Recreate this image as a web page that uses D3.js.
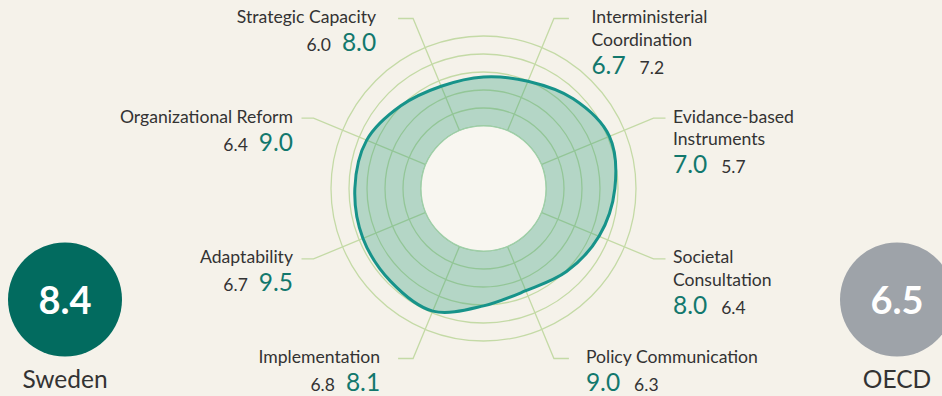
<!DOCTYPE html>
<html>
<head>
<meta charset="utf-8">
<script src="https://cdn.jsdelivr.net/npm/d3@7"></script>
<style>
  html, body { margin: 0; padding: 0; background: #f5f2ea; }
  svg { display: block; font-family: Lato, "Open Sans", sans-serif; }
</style>
</head>
<body>
<svg id="chart" width="942" height="396"></svg>
<script>
// categories, clockwise from the top-left spoke
var labelLines = [
  ["Strategic Capacity"],
  ["Interministerial", "Coordination"],
  ["Evidance-based", "Instruments"],
  ["Societal", "Consultation"],
  ["Policy Communication"],
  ["Implementation"],
  ["Adaptability"],
  ["Organizational Reform"]
];
var swedenScores = [8.0, 6.7, 7.0, 8.0, 9.0, 8.1, 9.5, 9.0];
var oecdScores   = [6.0, 7.2, 5.7, 6.4, 6.3, 6.8, 6.7, 6.4];
var swedenTotal = 8.4;
var oecdTotal = 6.5;
var countryNames = ["Sweden", "OECD"];
// the drawn outline at every spoke and half-spoke (score units)
var outlineScores = [5.35, 5.45, 5.95, 7.15, 8.2, 7.65, 6.95, 6.1,
                     5.35, 6.1, 7.8, 7.65, 7.55, 7.35, 7.1, 6.05];
var ringTicks = [0, 2, 4, 6, 8, 10];

var svg = d3.select("#chart");
var cx = 483.5, cy = 188.5;
var gridColor = "#c4daa6", teal = "#12786d", ink = "#333333";

var rscale = d3.scaleLinear().domain([0, 10]).range([62.5, 152.5]);
var rEnd = 184;

var angleOf = function(i) { return (i * 45 - 22.5) * Math.PI / 180; };

var g = svg.append("g").attr("transform", "translate(" + cx + "," + cy + ")");

// rings
g.selectAll("circle.ring")
  .data(ringTicks)
  .enter()
  .append("circle")
  .attr("class", "ring")
  .attr("r", function(d) { return rscale(d); })
  .attr("fill", "none")
  .attr("stroke", gridColor)
  .attr("stroke-width", 1.3);

// spokes + leader lines
var leaderLen = [15, 15, 12, 12, 15, 15, 12, 12];
g.selectAll("path.spoke")
  .data(labelLines)
  .enter()
  .append("path")
  .attr("class", "spoke")
  .attr("d", function(d, i) {
    var a = angleOf(i), s = Math.sin(a), c = -Math.cos(a);
    var x0 = rscale(0) * s, y0 = rscale(0) * c;
    var x1 = rEnd * s, y1 = rEnd * c;
    var x2 = x1 + (s > 0 ? 1 : -1) * leaderLen[i];
    return "M" + x0 + "," + y0 + "L" + x1 + "," + y1 + "L" + x2 + "," + y1;
  })
  .attr("fill", "none")
  .attr("stroke", gridColor)
  .attr("stroke-width", 1.3);

// area
var radial = d3.lineRadial()
  .angle(function(d, i) { return (i * 22.5 - 22.5) * Math.PI / 180; })
  .radius(function(d) { return rscale(d); })
  .curve(d3.curveCatmullRomClosed.alpha(0.5));

g.append("path")
  .attr("d", radial(outlineScores))
  .attr("fill", "#2a9d78")
  .attr("fill-opacity", 0.32)
  .attr("stroke", "none");

// hole
g.append("circle")
  .attr("r", rscale(0))
  .attr("fill", "#f8f6f0")
  .attr("stroke", "#9fcfa8")
  .attr("stroke-width", 1.2);

g.append("path")
  .attr("d", radial(outlineScores))
  .attr("fill", "none")
  .attr("stroke", "#17938a")
  .attr("stroke-width", 3);

// labels
var textDx = [-37, 37.5, 19.5, 19.5, 32, -33, -20.5, -20.5];
var labels = svg.selectAll("g.label")
  .data(labelLines)
  .enter()
  .append("g")
  .attr("class", "label")
  .attr("transform", function(d, i) {
    var a = angleOf(i);
    var x = cx + rEnd * Math.sin(a) + textDx[i];
    var y = cy - rEnd * Math.cos(a) + 4.5;
    return "translate(" + x + "," + y + ")";
  });

labels.each(function(lines, i) {
  var sel = d3.select(this);
  var right = Math.sin(angleOf(i)) > 0;
  var anchor = right ? "start" : "end";
  sel.selectAll("text.name")
    .data(lines)
    .enter()
    .append("text")
    .attr("class", "name")
    .attr("y", function(d, k) { return k * 22.5; })
    .attr("text-anchor", anchor)
    .attr("font-size", 17.6)
    .attr("fill", ink)
    .text(function(d) { return d; });

  var vt = sel.append("text")
    .attr("y", (lines.length - 1) * 22.5 + 28)
    .attr("text-anchor", anchor);
  var sw = function(t) { t.attr("font-size", 24.5).attr("fill", teal).text(swedenScores[i].toFixed(1)); };
  var oe = function(t) { t.attr("font-size", 17.5).attr("fill", ink).text(oecdScores[i].toFixed(1)); };
  if (right) {
    vt.append("tspan").call(sw);
    vt.append("tspan").attr("dx", 14).call(oe);
  } else {
    vt.append("tspan").call(oe);
    vt.append("tspan").attr("dx", 11).call(sw);
  }
});

// totals
var totals = [
  { name: countryNames[0], value: swedenTotal, x: 65, color: "#026b5f" },
  { name: countryNames[1], value: oecdTotal, x: 897, color: "#9ea3a9" }
];
var tg = svg.selectAll("g.total")
  .data(totals)
  .enter()
  .append("g")
  .attr("class", "total")
  .attr("transform", function(d) { return "translate(" + d.x + ",0)"; });

tg.append("circle")
  .attr("cy", 299.5)
  .attr("r", 57)
  .attr("fill", function(d) { return d.color; });

tg.append("text")
  .attr("y", 314)
  .attr("text-anchor", "middle")
  .attr("font-size", 38)
  .attr("font-weight", 700)
  .attr("fill", "#ffffff")
  .text(function(d) { return d.value.toFixed(1); });

tg.append("text")
  .attr("y", 388)
  .attr("text-anchor", "middle")
  .attr("font-size", 24.5)
  .attr("fill", ink)
  .text(function(d) { return d.name; });
</script>
</body>
</html>
